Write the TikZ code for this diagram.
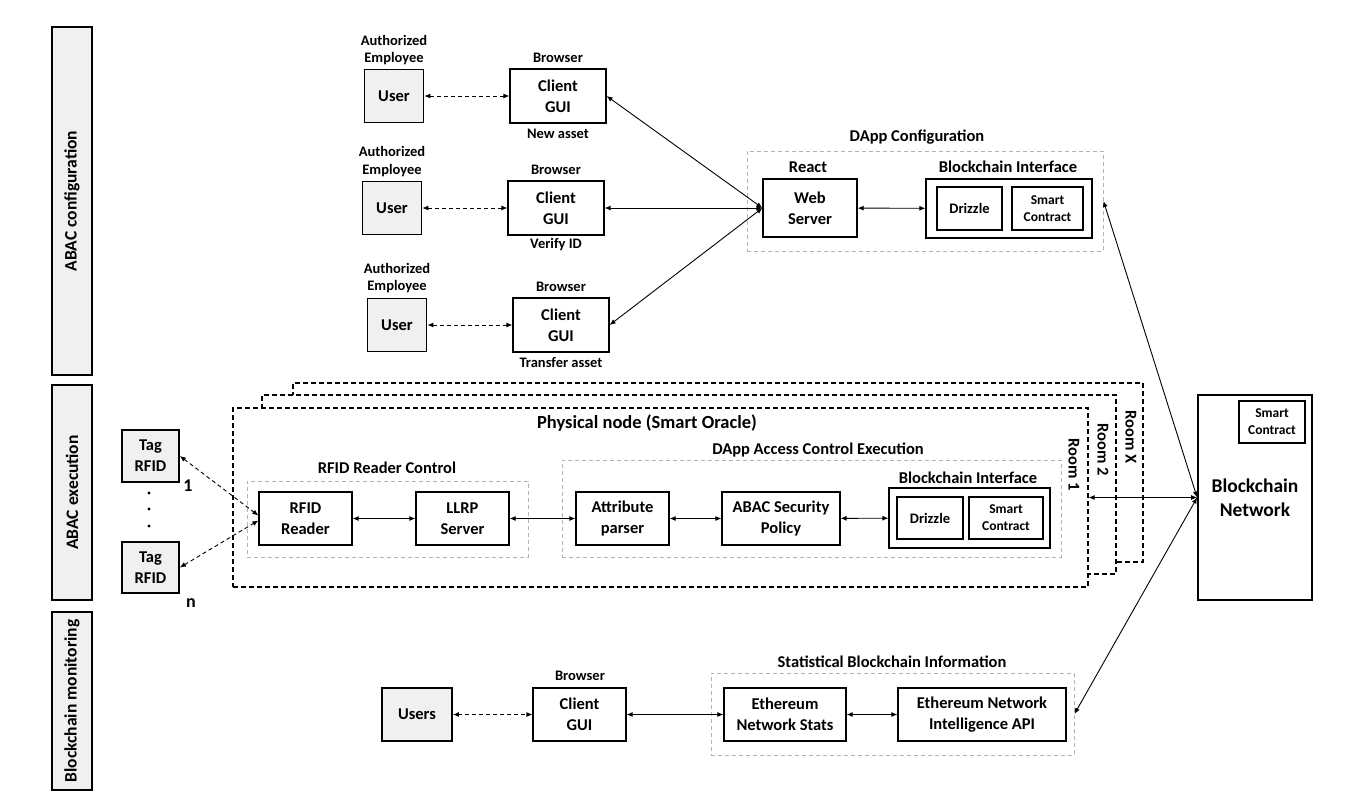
\documentclass[tikz,border=0pt]{standalone}
\usepackage{fontspec}
\setmainfont{Carlito}
\usepackage{tikz}
\usetikzlibrary{arrows.meta}
\usetikzlibrary{positioning}

\tikzset{
  box/.style={draw, line width=1.2pt, fill=white, align=center, inner sep=0pt, font=\fontsize{16.5}{21}\selectfont\bfseries},
  userbox/.style={box, fill=gray!12, line width=1.7pt},
  smallbox/.style={box, line width=1.1pt, font=\fontsize{13.5}{17}\selectfont\bfseries},
  grp/.style={draw=gray!60, line width=0.9pt, dash pattern=on 4pt off 3pt},
  room/.style={draw, line width=1.2pt, dash pattern=on 5pt off 3pt, fill=white},
  bar/.style={draw, line width=1.1pt, fill=gray!12, inner sep=0pt, font=\fontsize{17.5}{20}\selectfont\bfseries},
  lbl/.style={align=center, inner sep=0pt, font=\fontsize{14.5}{17.5}\selectfont\bfseries},
  ttl/.style={inner sep=0pt, font=\fontsize{16.5}{19}\selectfont\bfseries},
  link/.style={{Latex[length=6pt,width=5pt]}-{Latex[length=6pt,width=5pt]}, line width=0.9pt},
  dlink/.style={link, dash pattern=on 4pt off 3pt},
}

\begin{document}
\begin{tikzpicture}[x=1pt, y=-1pt]
    \useasboundingbox (0,0) rectangle (1365,797);
    % side bars
    \node[bar, rotate=90, minimum width=348pt, minimum height=40pt] (barcfg) at (72,201) {ABAC configuration};
    \node[bar, rotate=90, minimum width=215pt, minimum height=40pt] (barexec) at (72,492.5) {ABAC execution};
    \node[bar, rotate=90, minimum width=178pt, minimum height=40pt] (barmon) at (72,701) {Blockchain monitoring};

    % ABAC configuration
    \node[userbox, minimum width=59pt, minimum height=53pt] (user1) at (394,96) {User};
    \node[box, minimum width=96pt, minimum height=54pt] (gui1) at (558,96) {Client\\GUI};
    \node[lbl] (emp1) at (394,50) {Authorized\\Employee};
    \node[lbl] (brw1) at (558,58) {Browser};
    \node[lbl] (task1) at (558,134) {New asset};

    \node[userbox, minimum width=59pt, minimum height=53pt] (user2) at (392,208) {User};
    \node[box, minimum width=96pt, minimum height=54pt] (gui2) at (556,208) {Client\\GUI};
    \node[lbl] (emp2) at (392,161.5) {Authorized\\Employee};
    \node[lbl] (brw2) at (556,170) {Browser};
    \node[lbl] (task2) at (556,245) {Verify ID};

    \node[userbox, minimum width=59pt, minimum height=53pt] (user3) at (397,325) {User};
    \node[box, minimum width=96pt, minimum height=54pt] (gui3) at (561,325) {Client\\GUI};
    \node[lbl] (emp3) at (397,278) {Authorized\\Employee};
    \node[lbl] (brw3) at (561,287) {Browser};
    \node[lbl] (task3) at (561,363) {Transfer asset};

    \node[grp, minimum width=356pt, minimum height=100pt] (dappcfg) at (925,201) {};
    \node[ttl] (dappcfgt) at (917,137) {DApp Configuration};
    \node[box, minimum width=94pt, minimum height=58pt] (web) at (810,208) {Web\\Server};
    \node[ttl] (react) at (808,167) {React};
    \node[box, minimum width=166pt, minimum height=59pt] (bicfg) at (1009,208.5) {};
    \node[ttl] (bicfgt) at (1008,167) {Blockchain Interface};
    \node[smallbox, font=\fontsize{14.5}{17}\selectfont\bfseries, minimum width=65pt, minimum height=43pt] (drcfg) at (969.5,208.5) {Drizzle};
    \node[smallbox, minimum width=71pt, minimum height=43pt] (sccfg) at (1047.5,208.5) {Smart\\Contract};

    \foreach \i in {1,2,3}
        \draw[dlink] (user\i) -- (gui\i);
    \foreach \i in {1,2,3}
        \draw[link] (web.west) -- (gui\i.east);
    \draw[link] (web) -- (bicfg);

    % ABAC execution
    \node[room, minimum width=850pt, minimum height=179pt] (roomx) at (718,472.5) {};
    \node[room, minimum width=854pt, minimum height=179pt] (room2) at (689,484.5) {};
    \node[room, minimum width=855pt, minimum height=179pt] (phys) at (660.5,497.5) {};
    \node[ttl, rotate=-90] (roomxt) at (1131,437) {Room X};
    \node[ttl, rotate=-90] (room2t) at (1103,450) {Room 2};
    \node[ttl, rotate=-90] (room1t) at (1074,465) {Room 1};
    \node[ttl, font=\fontsize{18.5}{21}\selectfont\bfseries] (physt) at (647,423) {Physical node (Smart Oracle)};

    \node[grp, minimum width=281pt, minimum height=76pt] (rrc) at (387.5,519) {};
    \node[ttl] (rrct) at (387,468) {RFID Reader Control};
    \node[box, minimum width=93pt, minimum height=53pt] (reader) at (305.5,518.5) {RFID\\Reader};
    \node[box, minimum width=93pt, minimum height=53pt] (llrp) at (462.5,518.5) {LLRP\\Server};

    \node[grp, minimum width=499pt, minimum height=97pt] (ace) at (811.5,508.5) {};
    \node[ttl] (acet) at (818,450) {DApp Access Control Execution};
    \node[box, minimum width=93pt, minimum height=53pt] (attr) at (622.5,518.5) {Attribute\\parser};
    \node[box, minimum width=118pt, minimum height=53pt] (abac) at (781,518.5) {ABAC Security\\Policy};
    \node[box, minimum width=161pt, minimum height=60pt] (biexec) at (969.5,518) {};
    \node[ttl] (biexect) at (968,478) {Blockchain Interface};
    \node[smallbox, font=\fontsize{14.5}{17}\selectfont\bfseries, minimum width=66pt, minimum height=42pt] (drexec) at (930,518) {Drizzle};
    \node[smallbox, minimum width=74pt, minimum height=42pt] (scexec) at (1006,518) {Smart\\Contract};

    \node[userbox, minimum width=57pt, minimum height=52pt] (tag1) at (150.5,456) {Tag\\RFID};
    \node[userbox, minimum width=57pt, minimum height=51pt] (tag2) at (150.5,567.5) {Tag\\RFID};
    \node[ttl, font=\fontsize{18}{20}\selectfont\bfseries] (tag1n) at (188,486) {1};
    \node[ttl, font=\fontsize{18}{20}\selectfont\bfseries] (tag2n) at (191,603) {n};
    \foreach \y in {493,509,526}
        \fill (149,\y) circle[radius=1.6pt];

    \draw[dlink] (tag1.east) -- ([yshift=3pt]reader.west);
    \draw[dlink] (tag2.east) -- ([yshift=-2pt]reader.west);
    \draw[link] (reader) -- (llrp);
    \draw[link] (llrp) -- (attr);
    \draw[link] (attr) -- (abac);
    \draw[link] (abac) -- (biexec);

    % blockchain network
    \node[box, line width=1.7pt, minimum width=114pt, minimum height=205pt, font=\fontsize{19.5}{24}\selectfont\bfseries] (bn) at (1255,497.5) {Blockchain\\Network};
    \node[smallbox, minimum width=66pt, minimum height=42pt] (scbn) at (1272,422) {Smart\\Contract};

    % blockchain monitoring
    \node[userbox, minimum width=70pt, minimum height=53pt] (users) at (417,714.5) {Users};
    \node[box, minimum width=93pt, minimum height=53pt] (gui4) at (579.5,714.5) {Client\\GUI};
    \node[lbl] (brw4) at (580,676) {Browser};
    \node[grp, minimum width=363pt, minimum height=82pt] (stats) at (892.5,714) {};
    \node[ttl] (statst) at (892,662) {Statistical Blockchain Information};
    \node[box, minimum width=122pt, minimum height=53pt] (ens) at (785,714.5) {Ethereum\\Network Stats};
    \node[box, minimum width=168pt, minimum height=53pt] (eni) at (982,714.5) {Ethereum Network\\Intelligence API};

    \draw[dlink] (users) -- (gui4);
    \draw[link] (gui4) -- (ens);
    \draw[link] (ens) -- (eni);

    \draw[link] (dappcfg.east) -- (bn.west);
    \draw[link] (phys.east) -- (bn.west);
    \draw[link] (stats.east) -- (bn.west);
\end{tikzpicture}
\end{document}
